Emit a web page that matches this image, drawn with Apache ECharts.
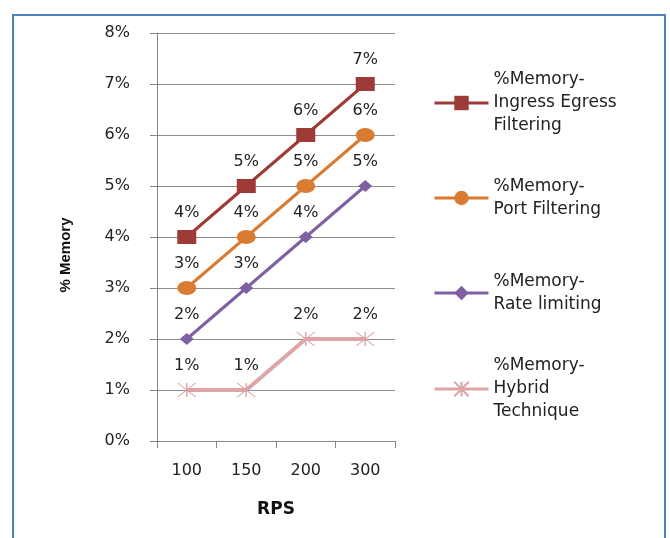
<!DOCTYPE html>
<html>
<head>
<meta charset="utf-8">
<script src="https://cdn.jsdelivr.net/npm/echarts@6/dist/echarts.min.js"></script>
<style>html,body{margin:0;padding:0;background:#fff}#c{width:670px;height:538px}</style>
</head>
<body>
<div id="c"></div>
<script>
var categories = ['100', '150', '200', '300'];
var seriesNames = [
  '%Memory-\nIngress Egress\nFiltering',
  '%Memory-\nPort Filtering',
  '%Memory-\nRate limiting',
  '%Memory-\nHybrid\nTechnique'
];
var ingressEgress = [4, 5, 6, 7];
var portFiltering = [3, 4, 5, 6];
var rateLimiting = [2, 3, 4, 5];
var hybridTechnique = [1, 1, 2, 2];
var yTicks = [0, 1, 2, 3, 4, 5, 6, 7, 8];

var FONT = 'DejaVu Sans';
var colors = ['#9E3B37', '#DA7B32', '#7F60A3', '#DDA5A5'];
var starPath = 'path://M0,0L10,10M0,10L10,0M5,0L5,10';

function lbl(d) {
  return { show: true, position: 'top', distance: d, color: '#222', fontFamily: FONT, fontSize: 16,
           formatter: function (p) { return p.value + '%'; } };
}

function mkLegend(i, top, lines) {
  return {
    data: [seriesNames[i]], left: 433, top: top, orient: 'vertical', padding: 0,
    itemWidth: 54, itemHeight: 18,
    lineStyle: { width: 3 },
    textStyle: { fontFamily: FONT, fontSize: 17, color: '#222', lineHeight: 23,
                 padding: [23 * (lines - 1), 0, 0, 0] }
  };
}

var chart = echarts.init(document.getElementById('c'));
chart.setOption({
  animation: false,
  backgroundColor: '#fff',
  graphic: [{ type: 'rect', shape: { x: 13, y: 15, width: 652, height: 540 },
              style: { fill: 'none', stroke: '#4F81BD', lineWidth: 2 } }],
  grid: { left: 157, right: 275, top: 33, bottom: 97 },
  xAxis: {
    type: 'category', data: categories, boundaryGap: true,
    name: 'RPS', nameLocation: 'middle', nameGap: 60,
    nameTextStyle: { fontFamily: FONT, fontWeight: 'bold', fontSize: 17, color: '#111' },
    axisLine: { lineStyle: { color: '#868686' } },
    axisTick: { show: true, length: 7, lineStyle: { color: '#868686' } },
    axisLabel: { margin: 22, fontFamily: FONT, fontSize: 16, color: '#222' }
  },
  yAxis: {
    type: 'value', min: 0, max: 8, interval: 1,
    name: '% Memory', nameLocation: 'middle', nameGap: 84, nameRotate: 90,
    nameTextStyle: { fontFamily: 'Liberation Sans', fontWeight: 'bold', fontSize: 15, color: '#111',
                     padding: [0, 36, 0, 0] },
    axisLine: { show: true, lineStyle: { color: '#868686' } },
    axisTick: { show: true, length: 7, lineStyle: { color: '#868686' } },
    splitLine: { lineStyle: { color: '#8C8C8C' } },
    axisLabel: { margin: 27, fontFamily: FONT, fontSize: 16, color: '#222',
                 formatter: function (v) { return yTicks.indexOf(v) >= 0 ? v + '%' : ''; } }
  },
  legend: [mkLegend(0, 45.5, 3), mkLegend(1, 163.5, 2), mkLegend(2, 258.5, 2), mkLegend(3, 331.5, 3)],
  series: [
    { name: seriesNames[0], type: 'line', data: ingressEgress, symbol: 'rect', symbolSize: [19, 14],
      itemStyle: { color: colors[0] }, lineStyle: { color: colors[0], width: 3 }, label: lbl(9) },
    { name: seriesNames[1], type: 'line', data: portFiltering, symbol: 'circle', symbolSize: [19, 14],
      itemStyle: { color: colors[1] }, lineStyle: { color: colors[1], width: 3 }, label: lbl(9) },
    { name: seriesNames[2], type: 'line', data: rateLimiting, symbol: 'diamond', symbolSize: [14, 12],
      itemStyle: { color: colors[2] }, lineStyle: { color: colors[2], width: 3 }, label: lbl(10) },
    { name: seriesNames[3], type: 'line', data: hybridTechnique, symbol: starPath, symbolSize: [18, 14],
      itemStyle: { color: colors[3], borderColor: colors[3], borderWidth: 1.2 },
      lineStyle: { color: colors[3], width: 4 }, label: lbl(9) }
  ]
});
</script>
</body>
</html>
